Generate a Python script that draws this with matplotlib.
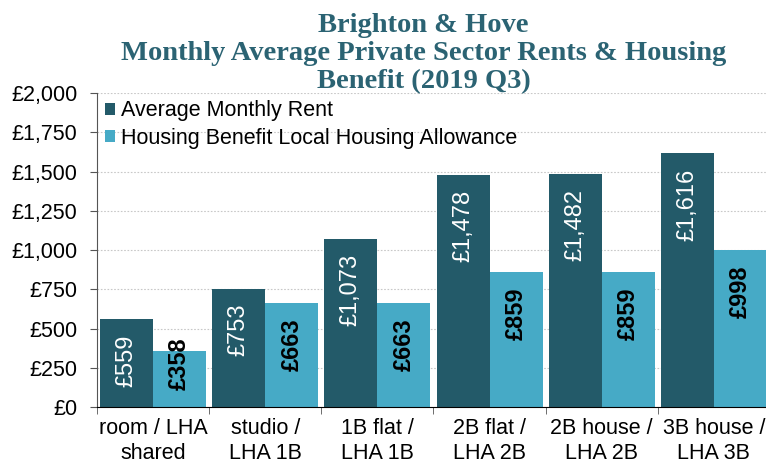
import numpy as np
import matplotlib.pyplot as plt
import matplotlib.transforms as mtransforms
from matplotlib.ticker import FuncFormatter, MultipleLocator

# data
categories = ["room / LHA\nshared", "studio /\nLHA 1B", "1B flat /\nLHA 1B",
              "2B flat /\nLHA 2B", "2B house /\nLHA 2B", "3B house /\nLHA 3B"]
avg_rent = [559, 753, 1073, 1478, 1482, 1616]
lha = [358, 663, 663, 859, 859, 998]
series_names = ["Average Monthly Rent", "Housing Benefit Local Housing Allowance"]

DARK = "#235a69"
LIGHT = "#46aac6"
TITLE_COL = "#2b6373"

plt.rcParams["font.family"] = ["Liberation Sans", "DejaVu Sans"]

fig = plt.figure(figsize=(7.66, 4.66), dpi=100)
ax = fig.add_axes([0.1266, 0.1266, 0.8786, 0.6738])

x = np.arange(len(categories))
w = 0.473
b1 = ax.bar(x - w / 2, avg_rent, w, color=DARK, label=series_names[0])
b2 = ax.bar(x + w / 2, lha, w, color=LIGHT, label=series_names[1])

# value labels, inside end (15 px below the bar top)
lab_tr = mtransforms.offset_copy(ax.transData, fig=fig, x=0, y=-15, units="dots")
labels = []
for bars, vals, col, wt in [(b1, avg_rent, "white", "normal"),
                            (b2, lha, "black", "bold")]:
    for rect, v in zip(bars, vals):
        t = ax.text(rect.get_x() + rect.get_width() / 2, v, f"£{v:,}",
                    transform=lab_tr, rotation=90, ha="center", va="top",
                    color=col, fontsize=17, fontweight=wt)
        labels.append(t)

ax.set_xlim(-0.5, len(categories) - 0.5)
ax.set_ylim(0, 2000)
ax.yaxis.set_major_locator(MultipleLocator(250))
ax.yaxis.set_major_formatter(FuncFormatter(lambda v, p: f"£{v:,.0f}"))
ax.grid(axis="y", linestyle=(0, (1.5, 1.5)), color="#c8c8c8", linewidth=0.8)
ax.set_axisbelow(True)

ax.set_xticks(x)
ax.set_xticklabels(categories, fontsize=15.5, linespacing=1.25)
ax.tick_params(axis="x", which="major", length=0, pad=8)
ax.set_xticks(np.arange(len(categories) + 1) - 0.5, minor=True)
ax.tick_params(axis="x", which="minor", length=5, color="#555555")
ax.tick_params(axis="y", labelsize=15.5, length=5, color="#555555", pad=9)

for s in ["top", "right"]:
    ax.spines[s].set_visible(False)
ax.spines["left"].set_color("#555555")
ax.spines["bottom"].set_color("black")

ax.legend(loc="upper left", bbox_to_anchor=(0.006, 0.99), frameon=False,
          fontsize=15.5, handlelength=0.45, handleheight=0.45,
          handletextpad=0.3, labelspacing=0.3, borderaxespad=0.0,
          borderpad=0.2)

fig.text(0.553, 0.972, "Brighton & Hove\nMonthly Average Private Sector Rents & Housing\nBenefit (2019 Q3)",
         ha="center", va="top", fontsize=20.5, fontweight="bold",
         family=["Liberation Serif", "DejaVu Serif"], color=TITLE_COL,
         linespacing=1.15)

# labels that do not fit are kept off the axis (like Excel does)
fig.canvas.draw()
r = fig.canvas.get_renderer()
floor = ax.transAxes.transform((0, 0))[1] + 17
for t in labels:
    bb = t.get_window_extent(r)
    if bb.y0 < floor:
        shift = floor - bb.y0
        t.set_transform(lab_tr + mtransforms.Affine2D().translate(0, shift))

fig.savefig("out.png", dpi=100)
